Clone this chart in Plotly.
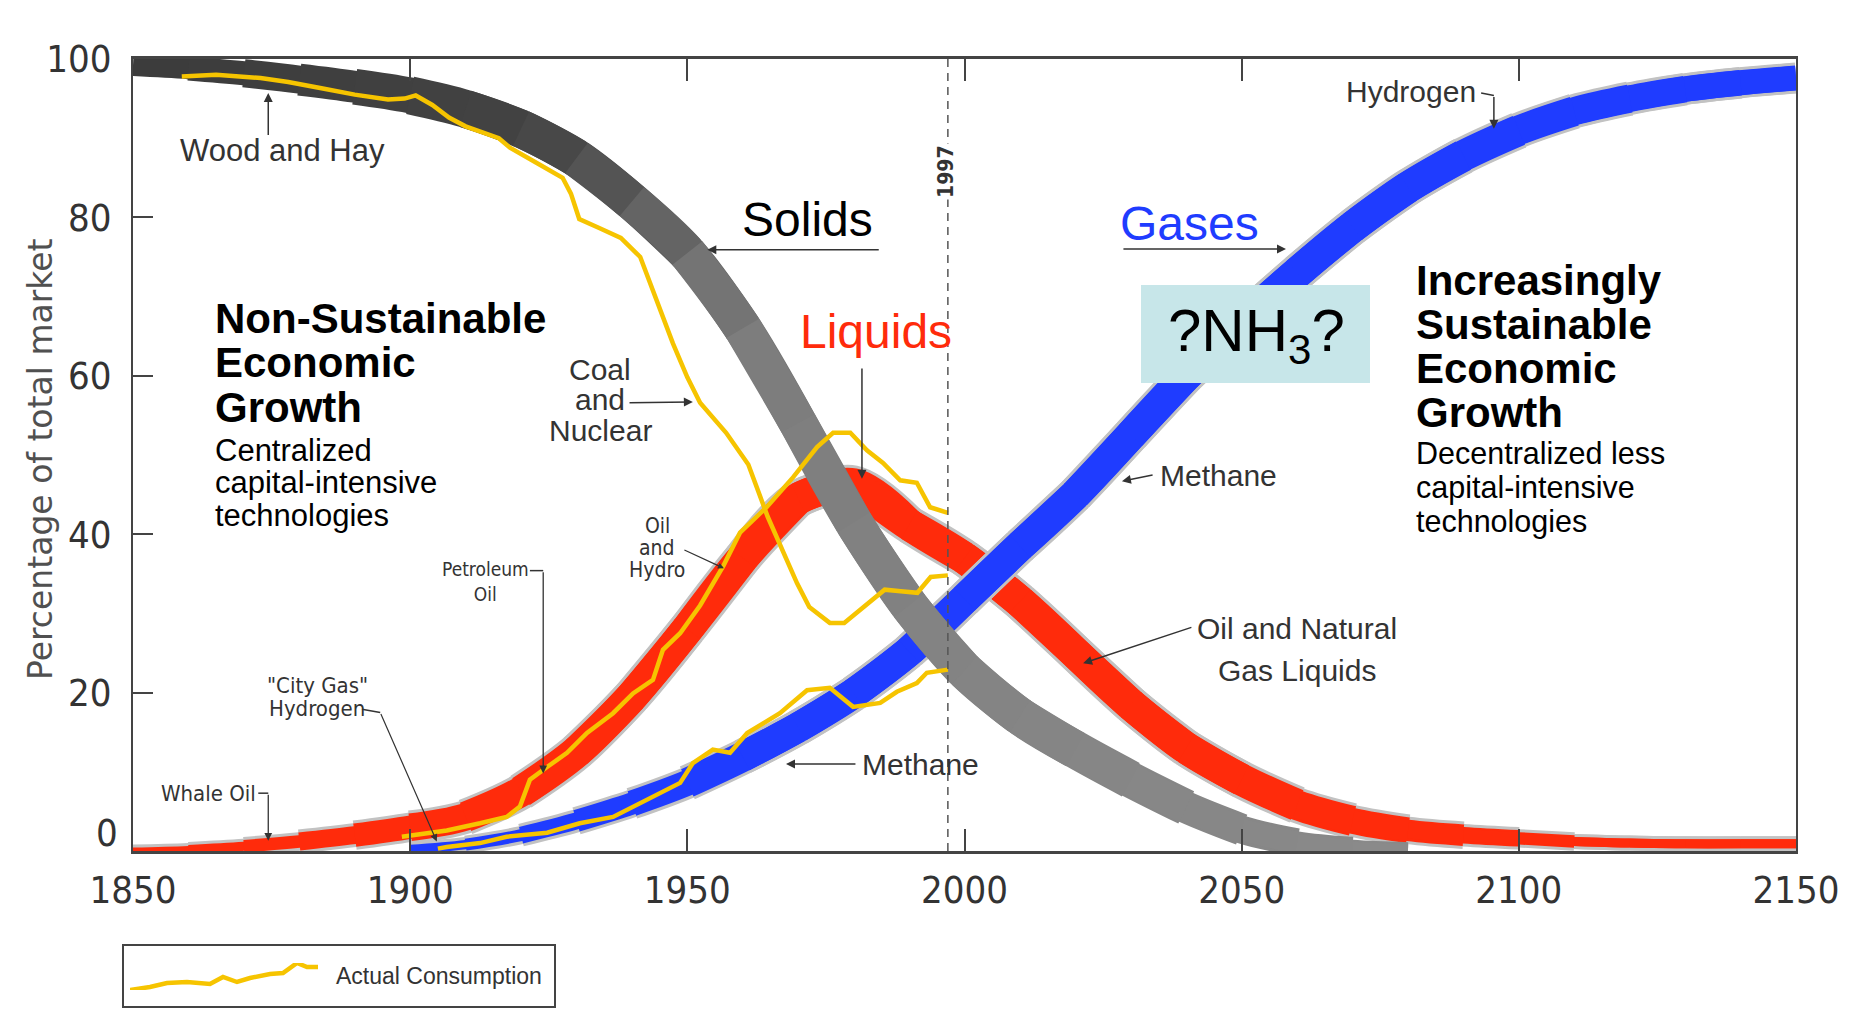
import plotly.graph_objects as go

W, H = 1862, 1018
OFF = 8  # the page places the figure 8 px from the top-left corner
PLOT_L, PLOT_R, PLOT_T, PLOT_B = 133, 1796, 59, 851


def px(x):
    return (x - OFF) / W


def py(y):
    return 1 - (y - OFF) / H


# ---------------- data ----------------
tick_years = [1850, 1900, 1950, 2000, 2050, 2100, 2150]
tick_shares = [0, 20, 40, 60, 80, 100]
tick_share_text = ["", "20", "40", "60", "80", "100"]   # "0" is set a little higher, as drawn
year_marker = 1997

solids_years = [1850, 1860, 1870, 1880, 1890, 1900, 1910, 1920, 1930, 1940, 1950, 1960,
                1970, 1980, 1990, 2000, 2010, 2020, 2030, 2040, 2050, 2060, 2070, 2080]
solids_share = [99.2, 98.8, 98.2, 97.4, 96.5, 95.4, 93.7, 91.2, 87.5, 82.0, 75.5, 66.0,
                54.0, 41.5, 31.0, 22.8, 17.0, 12.8, 9.0, 5.5, 2.7, 1.1, 0.4, 0.1]

liquids_years = [1850, 1860, 1870, 1880, 1890, 1900, 1910, 1920, 1930, 1940, 1950, 1960,
                 1970, 1980, 1990, 2000, 2010, 2020, 2030, 2040, 2050, 2060, 2070, 2080,
                 2090, 2100, 2110, 2120, 2130, 2140, 2150]
liquids_share = [0.0, 0.2, 0.6, 1.2, 2.0, 3.0, 4.3, 7.5, 12.5, 19.5, 28.0, 37.0,
                 44.5, 46.3, 41.2, 37.0, 31.5, 25.0, 18.5, 13.0, 9.0, 5.8, 3.8, 2.6,
                 2.0, 1.6, 1.2, 1.0, 0.9, 0.9, 0.9]

gases_years = [1900, 1910, 1920, 1930, 1940, 1950, 1960, 1970, 1980, 1990, 2000, 2010,
               2020, 2030, 2040, 2050, 2060, 2070, 2080, 2090, 2100, 2110, 2120, 2130,
               2140, 2150]
gases_share = [0.2, 0.8, 2.0, 3.8, 6.0, 8.6, 11.9, 15.6, 19.9, 25.2, 31.8, 38.5,
               45.0, 52.5, 60.0, 66.8, 73.0, 78.8, 83.8, 87.8, 91.0, 93.4, 95.0, 96.2,
               97.0, 97.6]

# actual consumption (yellow)
coal_years = [1858.8, 1865, 1873, 1878, 1884, 1890, 1896, 1899, 1901, 1904, 1907, 1910,
              1916, 1918, 1923, 1927.5, 1929, 1930.5, 1934, 1938, 1941.5, 1943.3, 1945,
              1947.4, 1950, 1952.3, 1957, 1961, 1964.5, 1967.4, 1969.8, 1972, 1975.7,
              1978.3, 1981.9, 1985.6, 1988.5, 1991.5, 1993.9, 1997]
coal_share = [97.8, 98.0, 97.6, 97.1, 96.3, 95.5, 94.9, 95.0, 95.4, 94.2, 92.6, 91.5,
              90.0, 88.8, 86.8, 85.0, 83.0, 79.8, 78.7, 77.4, 75.0, 71.7, 68.8,
              64.1, 59.8, 56.6, 52.8, 48.8, 42.2, 37.6, 33.8, 30.8, 28.8,
              28.8, 30.8, 33.0, 32.8, 32.6, 34.6, 34.8]

oil_years = [1898.5, 1903.6, 1906.6, 1912.6, 1917.4, 1919.8, 1921.6, 1924.7, 1928.3,
             1931.9, 1936.6, 1940.2, 1943.8, 1945.6, 1948.7, 1952.3, 1956.5, 1959.5,
             1964.3, 1969.1, 1973.4, 1976.3, 1979.4, 1982.4, 1985.3, 1988.4, 1991.4,
             1993.8, 1997]
oil_share = [1.8, 2.3, 2.6, 3.5, 4.3, 5.6, 9.0, 10.6, 12.4,
             14.9, 17.4, 19.9, 21.6, 25.4, 27.5, 31.0, 36.0, 40.2,
             43.4, 47.2, 51.0, 52.8, 52.8, 50.6, 49.0, 46.8, 46.5,
             43.4, 42.7]

gas_years = [1905, 1906.6, 1912.6, 1917.4, 1924.7, 1930.6, 1936.6, 1942.7, 1948.7,
             1951.0, 1954.6, 1957.7, 1960.8, 1966.7, 1971.6, 1975.7, 1979.9, 1984.8,
             1987.8, 1991.4, 1993.2, 1997]
gas_share = [0.3, 0.5, 1.0, 1.8, 2.3, 3.5, 4.3, 6.4, 8.6,
             11.1, 12.8, 12.4, 14.9, 17.4, 20.3, 20.6, 18.2, 18.7,
             20.1, 21.2, 22.5, 22.9]

# wiggly legend sample
legend_x = [0, 20, 37, 57, 80, 93, 107, 120, 140, 153, 167, 177, 188]
legend_y = [0, 3, 7, 8, 6, 13, 8, 12, 16, 17, 27, 23, 23]

# ---------------- styles ----------------
NARROW = "Liberation Sans Narrow, Arial Narrow, DejaVu Sans Condensed, sans-serif"
SANS = "Liberation Sans, Arial, Helvetica, sans-serif"
RED = "#ff2b0b"
BLUE = "#1f3cff"
YELLOW = "#f6c400"
HALO = "#c2c2c2"
LABEL = "#333333"

GRAY_WIDTH = [(1850, 20), (1865, 24), (1885, 32), (1900, 38), (2020, 38), (2045, 28),
              (2065, 16), (2080, 10)]
RED_WIDTH = [(1850, 6), (1870, 10), (1885, 18), (1900, 26), (1920, 32), (2050, 32),
             (2070, 24), (2090, 14), (2105, 9), (2150, 9)]
BLUE_WIDTH = [(1900, 8), (1915, 12), (1935, 22), (1955, 30), (2080, 32), (2120, 26),
              (2150, 24)]
GRAY_STOPS = [(1850, (60, 60, 60)), (1920, (66, 66, 66)), (1935, (84, 84, 84)),
              (1960, (124, 124, 124)), (2000, (132, 132, 132)), (2080, (138, 138, 138))]


def interp(stops, t):
    if t <= stops[0][0]:
        return stops[0][1]
    for (y0, v0), (y1, v1) in zip(stops, stops[1:]):
        if y0 <= t <= y1:
            return v0 + (v1 - v0) * (t - y0) / (y1 - y0)
    return stops[-1][1]


def lerp_color(stops, t):
    c = stops[-1][1]
    if t <= stops[0][0]:
        c = stops[0][1]
    else:
        for (y0, c0), (y1, c1) in zip(stops, stops[1:]):
            if y0 <= t <= y1:
                f = (t - y0) / (y1 - y0)
                c = tuple(round(a + (b - a) * f) for a, b in zip(c0, c1))
                break
    return "rgb(%d,%d,%d)" % c


def band(years, vals, width_of, color_of, extra=0):
    out = []
    n = len(years)
    for i in range(n - 1):
        j = min(i + 3, n)
        mid = (years[i] + years[i + 1]) / 2
        out.append(go.Scatter(
            x=years[i:j], y=vals[i:j], mode="lines",
            line=dict(shape="spline", smoothing=1.0,
                      width=width_of(mid) + extra, color=color_of(mid)),
            hoverinfo="skip", showlegend=False))
    return out


fig = go.Figure()

# Liquids (red)
for tr in band(liquids_years, liquids_share, lambda t: interp(RED_WIDTH, t), lambda t: HALO, extra=6):
    fig.add_trace(tr)
for tr in band(liquids_years, liquids_share, lambda t: interp(RED_WIDTH, t), lambda t: RED):
    fig.add_trace(tr)
# Gases (blue)
for tr in band(gases_years, gases_share, lambda t: interp(BLUE_WIDTH, t), lambda t: HALO, extra=6):
    fig.add_trace(tr)
for tr in band(gases_years, gases_share, lambda t: interp(BLUE_WIDTH, t), lambda t: BLUE):
    fig.add_trace(tr)
# Solids (gray)
for tr in band(solids_years, solids_share, lambda t: interp(GRAY_WIDTH, t),
               lambda t: lerp_color(GRAY_STOPS, t)):
    fig.add_trace(tr)

# actual consumption
for xs, ys in [(coal_years, coal_share), (oil_years, oil_share), (gas_years, gas_share)]:
    fig.add_trace(go.Scatter(x=xs, y=ys, mode="lines",
                             line=dict(color=YELLOW, width=4.5),
                             hoverinfo="skip", showlegend=False))

# legend sample
fig.add_trace(go.Scatter(x=legend_x, y=legend_y, mode="lines", xaxis="x2", yaxis="y2",
                         line=dict(color=YELLOW, width=4.5), hoverinfo="skip",
                         showlegend=False))

annotations = []


def text(t, x, y, size, color="#000000", family=SANS, xanchor="left", angle=0, bg=None):
    d = dict(text=t, x=px(x), y=py(y), xref="paper", yref="paper",
             xanchor=xanchor, yanchor="middle", showarrow=False, textangle=angle,
             font=dict(family=family, size=size, color=color))
    if bg:
        d["bgcolor"] = bg
    annotations.append(d)


def arrow(x_tail, y_tail, x_head, y_head, width=1.5, size=1.2, color="#333333"):
    annotations.append(dict(text="", x=x_head, y=y_head, ax=x_tail, ay=y_tail,
                            xref="x", yref="y", axref="x", ayref="y",
                            showarrow=True, arrowhead=2, arrowsize=size,
                            arrowwidth=width, arrowcolor=color))


shapes = []


def hook(x0, y0, x1, y1):
    shapes.append(dict(type="line", xref="x", yref="y", x0=x0, y0=y0, x1=x1, y1=y1,
                       line=dict(color="#333333", width=1.5)))


# 1997 marker
shapes.append(dict(type="line", xref="x", yref="y", x0=year_marker, x1=year_marker,
                   y0=0, y1=100, line=dict(color="#555555", width=1.5, dash="8px,6px")))
# NH3 box
shapes.append(dict(type="rect", xref="paper", yref="paper", x0=px(1141), x1=px(1370),
                   y0=py(383), y1=py(285), fillcolor="#c7e6e9", line=dict(width=0),
                   layer="above"))
# legend box
shapes.append(dict(type="rect", xref="paper", yref="paper", x0=px(123), x1=px(555),
                   y0=py(1007), y1=py(945), fillcolor="rgba(0,0,0,0)",
                   line=dict(color="#444444", width=2)))

# big labels
text("Solids", 807, 219, 48, "#000000", xanchor="center")
text("Liquids", 876, 331, 48, RED, xanchor="center")
text("Gases", 1189, 224, 48, BLUE, xanchor="center")
text("?NH<sub>3</sub>?", 1256, 335, 60, "#000000", xanchor="center")

for t, y in [("Non-Sustainable", 318), ("Economic", 362), ("Growth", 407)]:
    text("<b>%s</b>" % t, 213, y, 42)
for t, y in [("Centralized", 450), ("capital-intensive", 483), ("technologies", 515)]:
    text(t, 213, y, 31)
for t, y in [("Increasingly", 280), ("Sustainable", 324), ("Economic", 368), ("Growth", 412)]:
    text("<b>%s</b>" % t, 1414, y, 42)
for t, y in [("Decentralized less", 453), ("capital-intensive", 487), ("technologies", 521)]:
    text(t, 1414, y, 30.5)

# grey captions
text("Wood and Hay", 178, 151, 31, LABEL)
for t, y in [("Coal", 369), ("and", 399), ("Nuclear", 430)]:
    text(t, 600, y, 30, LABEL, xanchor="center")
for t, y in [("Oil", 526), ("and", 548), ("Hydro", 570)]:
    text(t, 657, y, 21, LABEL, family=NARROW, xanchor="center")
text("Petroleum<br>Oil", 485, 581, 19, LABEL, family=NARROW, xanchor="center")
for t, y in [("\"City Gas\"", 685), ("Hydrogen", 708)]:
    text(t, 317, y, 22, LABEL, family=NARROW, xanchor="center")
text("Whale Oil", 208, 793, 22, LABEL, family=NARROW, xanchor="center")
text("Methane", 860, 764, 30, LABEL)
text("Methane", 1158, 475, 30, LABEL)
text("Hydrogen", 1344, 92, 30, LABEL)
text("Oil and Natural", 1297, 628, 30, LABEL, xanchor="center")
text("Gas Liquids", 1297, 670, 30, LABEL, xanchor="center")
text("<b>1997</b>", 946, 172, 21, "#333333", family=NARROW, xanchor="center",
     angle=-90, bg="white")
text("Actual Consumption", 334, 976, 23, LABEL)
text("Percentage of total market", 40, 459, 33, "#505050",
     family="DejaVu Sans, Verdana, sans-serif", xanchor="center", angle=-90)
text("0", 107, 833, 38, "#333333", family=NARROW, xanchor="center")

# arrows (data coordinates)
arrow(1984.8, 75.9, 1953.6, 75.9)          # Solids
arrow(2028.4, 76.0, 2058.0, 76.0)          # Gases
arrow(1981.5, 61.1, 1981.5, 47.0)          # Liquids
arrow(1874.4, 90.2, 1874.4, 95.7)          # Wood and Hay
arrow(1939.3, 56.6, 1951.0, 56.7)          # Coal and Nuclear
arrow(1949.2, 38.1, 1956.6, 35.7, width=1.2, size=1.0)  # Oil and Hydro
arrow(1924.0, 35.4, 1924.0, 9.8, width=1.3)             # Petroleum Oil
hook(1921.6, 35.4, 1924.0, 35.4)
arrow(1894.6, 17.5, 1904.8, 1.2, width=1.2)             # City gas hydrogen
hook(1891.3, 17.9, 1894.6, 17.5)
arrow(1874.4, 7.3, 1874.4, 1.3, width=1.3)              # Whale oil
hook(1872.6, 7.3, 1874.4, 7.3)
arrow(1980.6, 11.0, 1967.8, 11.0)          # Methane (lower)
arrow(2034.2, 47.5, 2028.4, 46.7)          # Methane (upper)
arrow(2095.5, 95.4, 2095.5, 91.2)          # Hydrogen
hook(2093.2, 95.7, 2095.5, 95.4)
arrow(2041.2, 28.3, 2021.4, 23.7)          # Oil and natural gas liquids

axis_font = dict(family=NARROW, size=38, color="#333333")

fig.update_layout(
    width=W, height=H,
    autosize=False,
    margin=dict(l=0, r=0, t=0, b=0, pad=0, autoexpand=False),
    paper_bgcolor="white",
    plot_bgcolor="white",
    showlegend=False,
    shapes=shapes,
    annotations=annotations,
    xaxis=dict(domain=[px(PLOT_L), px(PLOT_R)], range=[1850, 2150], anchor="y",
               automargin=False,
               tickvals=tick_years, ticks="inside", ticklen=22, tickwidth=2,
               tickcolor="#444444", showline=True, linecolor="#444444", linewidth=2.5,
               mirror="ticks", showgrid=False, zeroline=False, tickfont=axis_font,
               ticklabelstandoff=4),
    yaxis=dict(domain=[py(PLOT_B), py(PLOT_T)], range=[0, 100], anchor="x",
               automargin=False,
               tickvals=tick_shares, ticktext=tick_share_text, ticks="inside",
               ticklen=20, tickwidth=2,
               tickcolor="#444444", showline=True, linecolor="#444444", linewidth=2,
               mirror=True, showgrid=False, zeroline=False, tickfont=axis_font,
               ticklabelstandoff=12),
    xaxis2=dict(domain=[px(130), px(318)], range=[0, 188], anchor="y2", visible=False),
    yaxis2=dict(domain=[py(990), py(963)], range=[0, 27], anchor="x2", visible=False),
)

fig.write_html("out.html", config={"responsive": False})
